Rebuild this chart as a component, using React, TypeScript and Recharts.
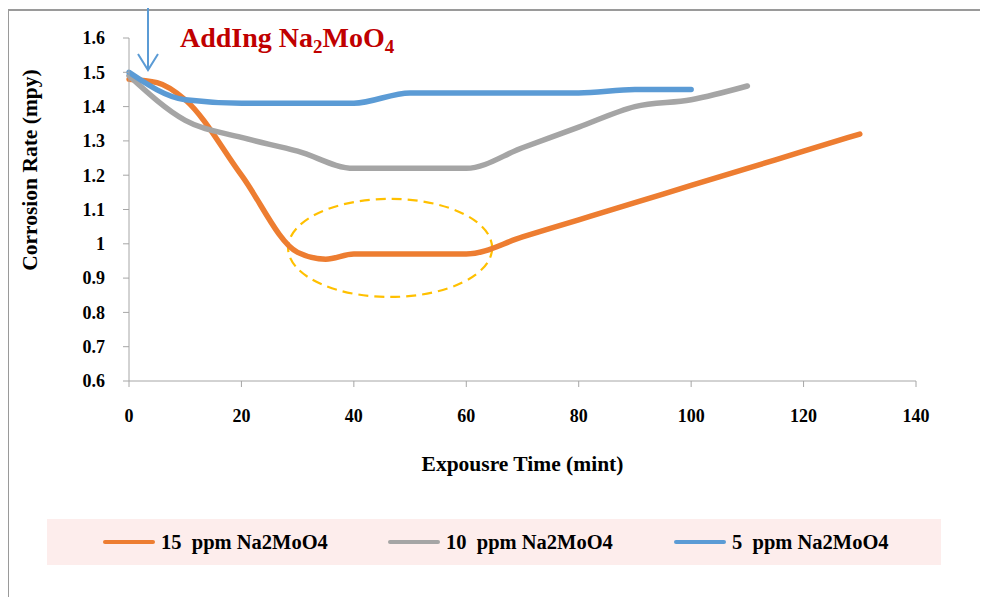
import React from 'react';
import { LineChart, Line, XAxis, YAxis, ReferenceArea } from 'recharts';

// exposure time (min) and corrosion rate (mpy) for each Na2MoO4 dose
const times15 = [0, 5, 10, 20, 30, 35, 40, 50, 60, 70, 80, 90, 100, 110, 120, 130];
const rate15 = [1.48, 1.47, 1.42, 1.2, 0.975, 0.955, 0.97, 0.97, 0.97, 1.02, 1.07, 1.12, 1.17, 1.22, 1.27, 1.32];

const times10 = [0, 10, 20, 30, 40, 50, 60, 70, 80, 90, 100, 110];
const rate10 = [1.49, 1.36, 1.31, 1.27, 1.22, 1.22, 1.22, 1.28, 1.34, 1.4, 1.42, 1.46];

const times5 = [0, 10, 20, 30, 40, 50, 60, 70, 80, 90, 100];
const rate5 = [1.5, 1.42, 1.41, 1.41, 1.41, 1.44, 1.44, 1.44, 1.44, 1.45, 1.45];

const xTicks = [0, 20, 40, 60, 80, 100, 120, 140];
const yTicks = [0.6, 0.7, 0.8, 0.9, 1, 1.1, 1.2, 1.3, 1.4, 1.5, 1.6];

const seriesNames = ['15  ppm Na2MoO4', '10  ppm Na2MoO4', '5  ppm Na2MoO4'];
const COLORS = ['#ED7D31', '#A5A5A5', '#5B9BD5'];

const zip = (ts: number[], vs: number[]) => ts.map((t, i) => ({ t, v: vs[i] }));
const series = [zip(times15, rate15), zip(times10, rate10), zip(times5, rate5)];

const FONT = '"Liberation Serif", "Times New Roman", serif';
const AXIS = '#A6A6A6';

const Ellipse = (props: any) => {
  const { x, y, width, height } = props;
  return (
    <ellipse
      cx={x + width / 2}
      cy={y + height / 2}
      rx={width / 2}
      ry={height / 2}
      fill="none"
      stroke="#FFC000"
      strokeWidth={2.2}
      strokeDasharray="10 6"
    />
  );
};

export default function App() {
  return (
    <div style={{ position: 'relative', margin: -8, width: 988, height: 605, overflow: 'hidden', fontFamily: FONT, background: '#fff' }}>
      {/* outer frame: only the left and top edges are in view */}
      <div style={{ position: 'absolute', left: 6, top: 9, width: 3, height: 600, background: '#9A9A9A' }} />
      <div style={{ position: 'absolute', left: 6, top: 9, width: 990, height: 2, background: '#9A9A9A' }} />

      <div style={{ position: 'absolute', left: 0, top: 0 }}>
        <LineChart width={988} height={605} margin={{ top: 38, right: 72, left: 29, bottom: 134 }}>
          <XAxis
            type="number"
            dataKey="t"
            domain={[0, 140]}
            ticks={xTicks}
            height={90}
            stroke={AXIS}
            tickSize={6}
            tickMargin={22}
            tick={{ fill: '#000', fontSize: 18, fontWeight: 'bold', fontFamily: FONT }}
            label={{ value: 'Expousre Time (mint)', position: 'insideBottom', offset: 0, fill: '#000', fontSize: 21.5, fontWeight: 'bold', fontFamily: FONT }}
          />
          <YAxis
            type="number"
            domain={[0.6, 1.6]}
            ticks={yTicks}
            width={100}
            stroke={AXIS}
            tickSize={6}
            tickMargin={18}
            tickFormatter={(v: number) => String(+v.toFixed(1))}
            tick={{ fill: '#000', fontSize: 18, fontWeight: 'bold', fontFamily: FONT }}
          />
          <ReferenceArea x1={28.3} x2={64.6} y1={0.845} y2={1.131} shape={<Ellipse />} />
          {series.map((d, i) => (
            <Line
              key={seriesNames[i]}
              data={d}
              dataKey="v"
              type="monotone"
              stroke={COLORS[i]}
              strokeWidth={5.5}
              strokeLinecap="round"
              dot={false}
              activeDot={false}
              name={seriesNames[i]}
              isAnimationActive={false}
            />
          ))}
        </LineChart>
      </div>

      {/* annotations */}
      <svg width={988} height={605} style={{ position: 'absolute', left: 0, top: 0, pointerEvents: 'none' }}>
        <text
          x={30}
          y={170}
          transform="rotate(-90 30 170)"
          textAnchor="middle"
          dominantBaseline="central"
          fontSize={21.5}
          fontWeight="bold"
          fontFamily={FONT}
          fill="#000"
        >
          Corrosion Rate (mpy)
        </text>
        <g stroke="#5B9BD5" strokeWidth={2} fill="none">
          <line x1={148} y1={0} x2={148} y2={70} />
          <polyline points="138,54 148,70 158,54" />
        </g>
        <text x={180} y={47} fontSize={28} fontWeight="bold" fontFamily={FONT} fill="#C00000">
          AddIng Na<tspan fontSize={19} dy={6}>2</tspan>
          <tspan dy={-6}>MoO</tspan>
          <tspan fontSize={19} dy={6}>4</tspan>
        </text>
      </svg>

      {/* legend */}
      <div
        style={{
          position: 'absolute',
          left: 47,
          top: 519,
          width: 894,
          height: 46,
          background: '#FDEDEC',
          display: 'flex',
          alignItems: 'center',
        }}
      >
        {seriesNames.map((n, i) => (
          <div key={n} style={{ position: 'absolute', left: [56, 341, 627][i], display: 'flex', alignItems: 'center' }}>
            <div style={{ width: 52, height: 4, borderRadius: 2, background: COLORS[i] }} />
            <span style={{ marginLeft: 6, fontSize: 20.5, fontWeight: 'bold', whiteSpace: 'pre', color: '#000' }}>{n}</span>
          </div>
        ))}
      </div>
    </div>
  );
}
